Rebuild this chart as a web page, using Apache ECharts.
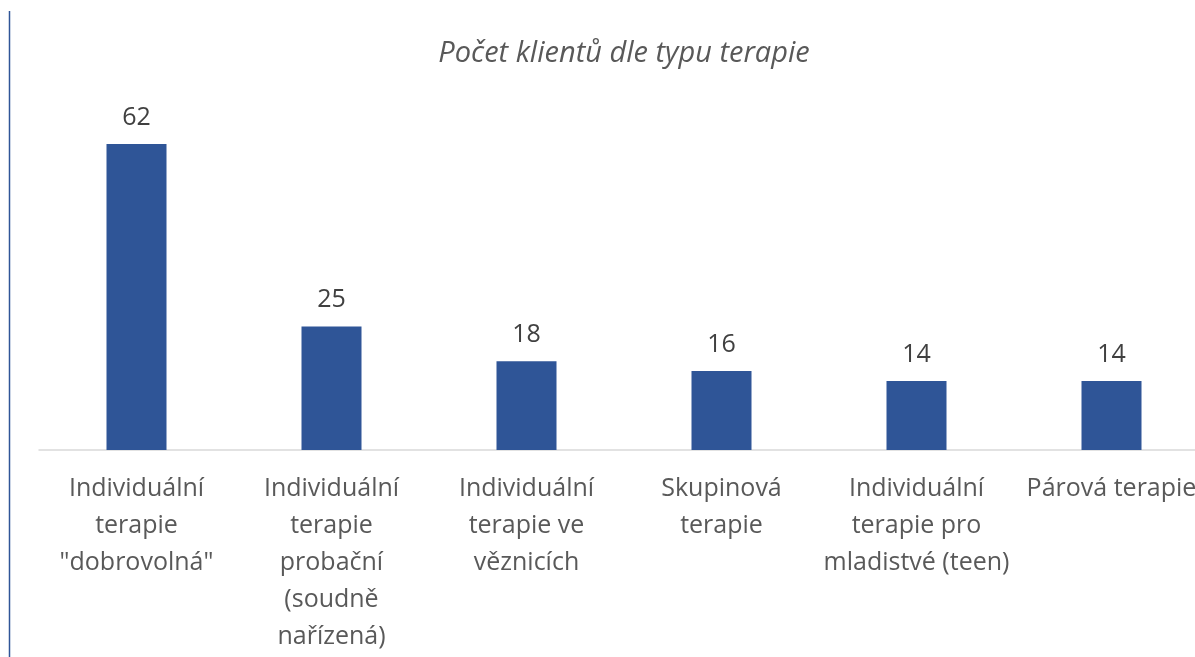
<!DOCTYPE html>
<html><head><meta charset="utf-8">
<script src="https://cdn.jsdelivr.net/npm/echarts@6/dist/echarts.min.js"></script>
<style>html,body{margin:0;padding:0;background:#fff;overflow:hidden;width:1195px;height:657px}#c{width:1209px;height:657px}</style>
</head><body><div id="c"></div>
<script>
const categories = [
  'Individuální\nterapie\n"dobrovolná"',
  'Individuální\nterapie\nprobační\n(soudně\nnařízená)',
  'Individuální\nterapie ve\nvěznicích',
  'Skupinová\nterapie',
  'Individuální\nterapie pro\nmladistvé (teen)',
  'Párová terapie'
];
const values = [62, 25, 18, 16, 14, 14];
const titleText = 'Počet klientů dle typu terapie';

const chart = echarts.init(document.getElementById('c'));
chart.setOption({
  animation: false,
  backgroundColor: '#fff',
  title: {
    text: titleText, left: 619, top: 34, textAlign: 'center',
    textStyle: { fontFamily: 'Open Sans', fontStyle: 'italic', fontWeight: 'normal', fontSize: 29, color: '#595959' }
  },
  graphic: [{
    type: 'line', shape: { x1: 9.5, y1: 11, x2: 9.5, y2: 657 },
    style: { stroke: '#2F5597', lineWidth: 1.5 }
  }],
  grid: { left: 39, top: 104.5, right: 0, height: 345.5, containLabel: false },
  xAxis: {
    type: 'category', data: categories,
    axisLine: { lineStyle: { color: '#d9d9d9', width: 1.5 } },
    axisTick: { show: false },
    axisLabel: {
      interval: 0, margin: 20, color: '#595959',
      fontFamily: 'Open Sans', fontSize: 25, lineHeight: 37
    }
  },
  yAxis: { type: 'value', min: 0, max: 70, show: false, splitLine: { show: false } },
  series: [{
    type: 'bar', data: values, barWidth: 60,
    itemStyle: { color: '#2F5597' },
    label: {
      show: true, position: 'top', distance: 14, color: '#404040',
      fontFamily: 'Open Sans', fontSize: 25
    }
  }]
});
</script></body></html>
